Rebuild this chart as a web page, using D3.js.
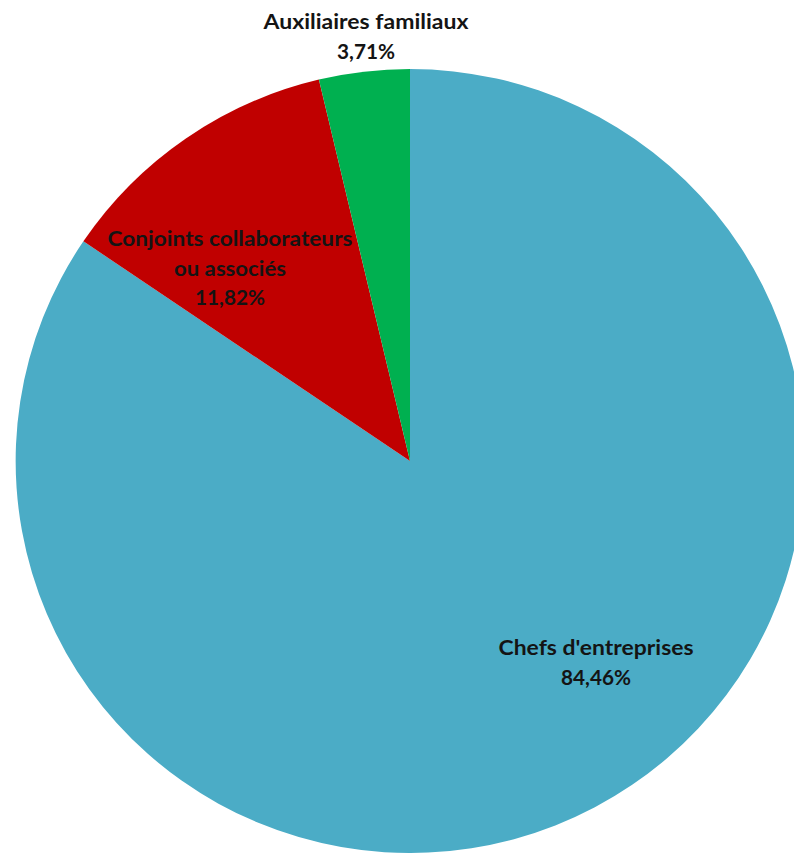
<!DOCTYPE html>
<html><head><meta charset="utf-8">
<script src="https://cdn.jsdelivr.net/npm/d3@7"></script>
<style>html,body{margin:0;padding:0;background:#fff;}svg{display:block;}</style>
</head><body>
<svg id="c" width="794" height="853"></svg>
<script>
const categories = ["Chefs d'entreprises", "Conjoints collaborateurs ou associés", "Auxiliaires familiaux"];
const labelLines = [["Chefs d'entreprises"], ["Conjoints collaborateurs", "ou associés"], ["Auxiliaires familiaux"]];
const values = [84.46, 11.82, 3.71];
const percentLabels = ["84,46%", "11,82%", "3,71%"];
const colors = ["#4BACC6", "#C00000", "#00B050"];

const svg = d3.select("#c");
const cx = 410, cy = 461, r = 392;
const g = svg.append("g").attr("transform", `translate(${cx},${cy}) scale(1.006,1)`);

const pie = d3.pie().sort(null).value(d => d).startAngle(0).endAngle(2 * Math.PI);
const arcs = pie(values);
const arc = d3.arc().innerRadius(0).outerRadius(r);

g.selectAll("path").data(arcs).enter().append("path")
  .attr("d", arc)
  .attr("fill", (d, i) => colors[i]);

// label placement (centre x, first baseline y) in page coordinates
const labelPos = [[596, 655], [230, 246], [366, 29]];
const widths = [[195, 70], [245, 112, 70], [205, 58]];
const lh = 29.5;
const fontSize = 20;

categories.forEach((c, i) => {
  const lines = labelLines[i].concat([percentLabels[i]]);
  const t = svg.append("text")
    .attr("text-anchor", "middle")
    .attr("font-family", "Lato, 'Open Sans', sans-serif")
    .attr("font-weight", "bold")
    .attr("font-size", fontSize)
    .attr("fill", "#141414");
  lines.forEach((ln, j) => {
    const ts = t.append("tspan")
      .attr("x", labelPos[i][0])
      .attr("y", labelPos[i][1] + j * lh)
      .text(ln);
    if (widths[i][j]) ts.attr("textLength", widths[i][j]).attr("lengthAdjust", "spacingAndGlyphs");
  });
});
</script>
</body></html>
